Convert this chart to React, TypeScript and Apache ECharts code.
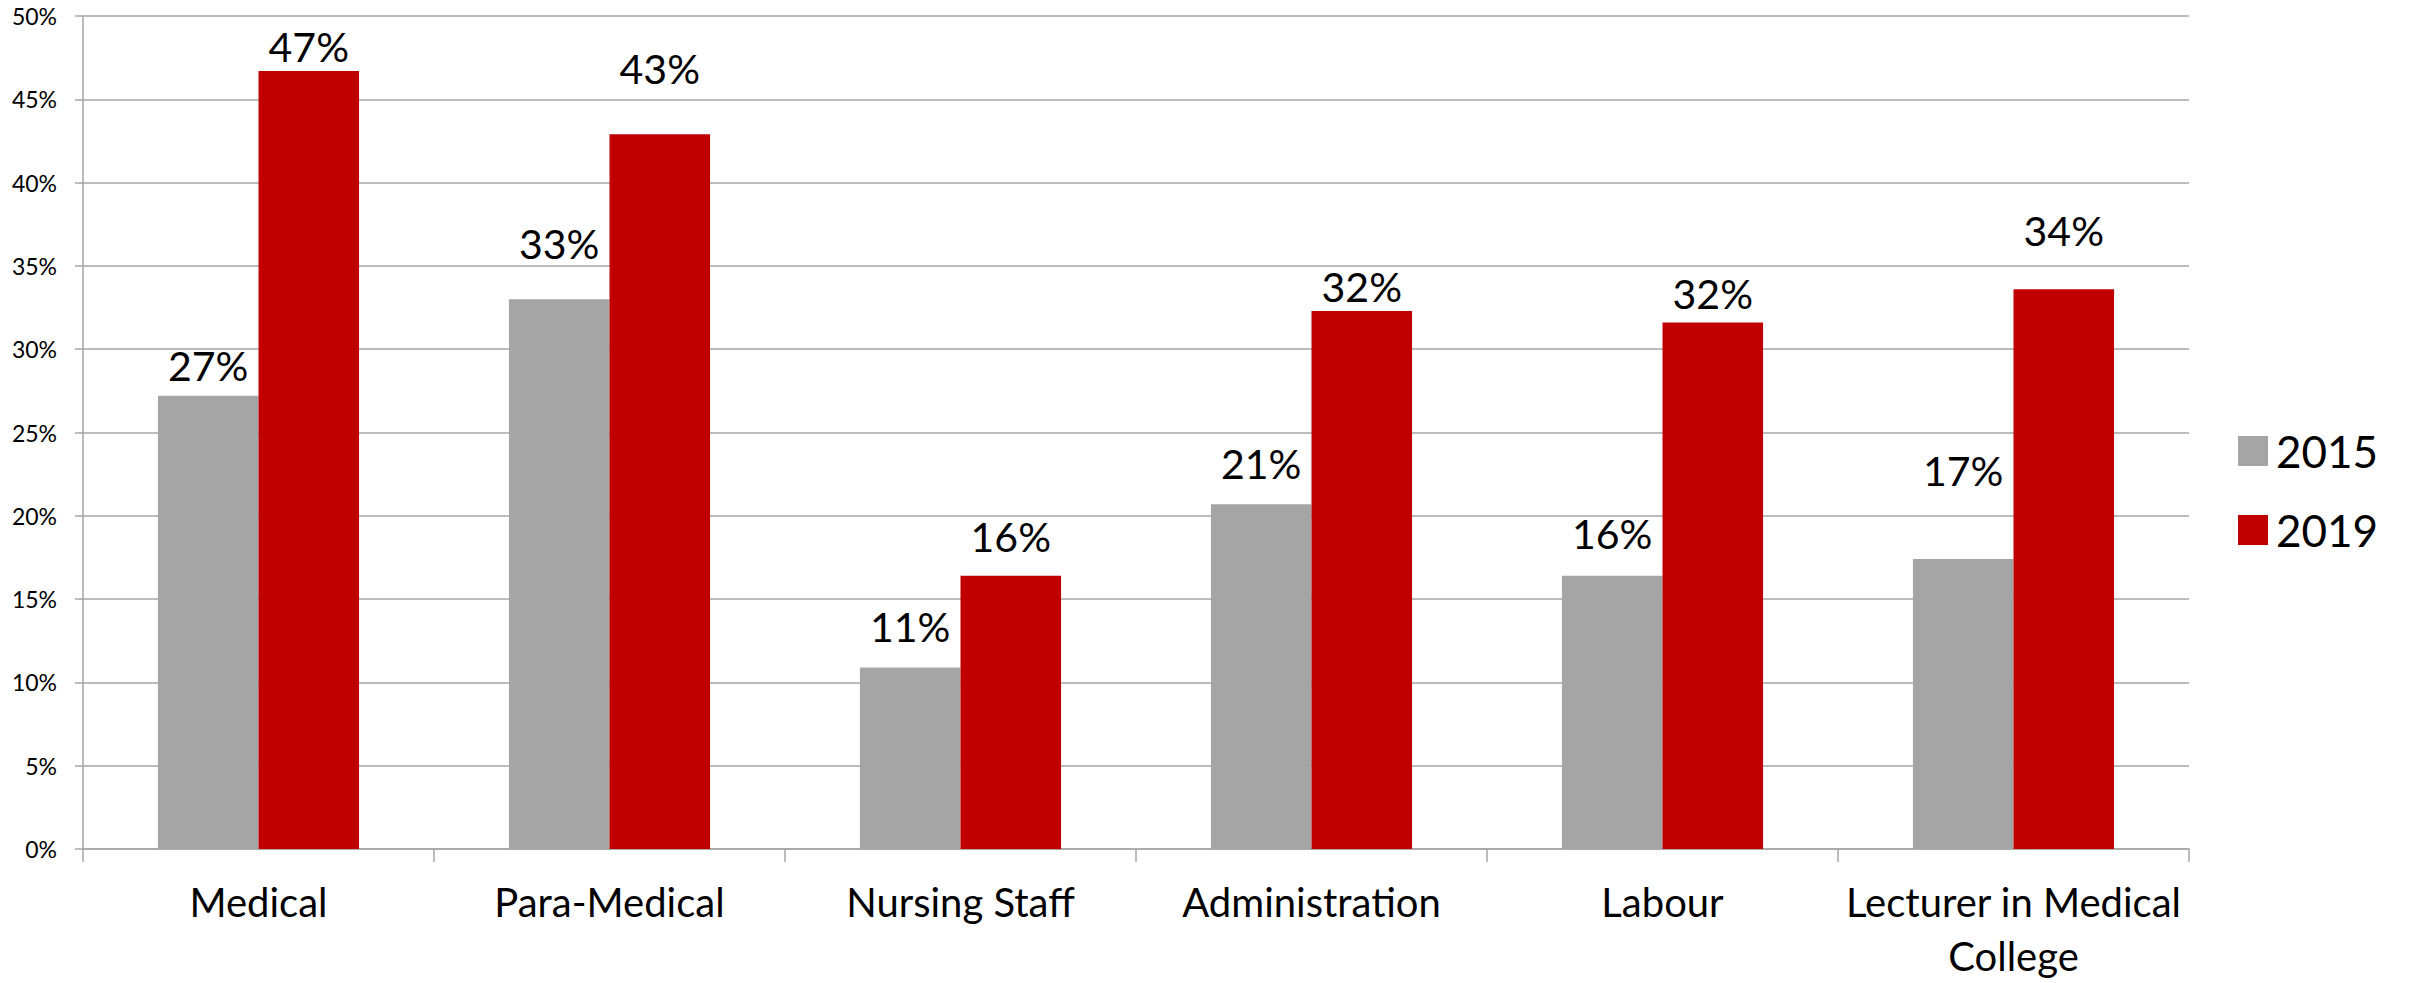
import React, { useEffect, useRef } from "react";
import * as echarts from "echarts";

// Share of posts (%) by staff category, 2015 vs 2019
const categories = [
  "Medical",
  "Para-Medical",
  "Nursing Staff",
  "Administration",
  "Labour",
  "Lecturer in Medical\nCollege",
];
const values2015 = [27.2, 33.0, 10.9, 20.7, 16.4, 17.4];
const values2019 = [46.7, 42.9, 16.4, 32.3, 31.6, 33.6];
const seriesNames = ["2015", "2019"];

// Extra lift of each value label above its bar (px)
const labelLift2015 = [10, 35, 20, 20, 22, 68];
const labelLift2019 = [4, 45, 19, 4, 9, 38];

const FONT = "Lato";
const GRID_COLOR = "#a6a6a6";

export default function App() {
  const ref = useRef<HTMLDivElement>(null);

  useEffect(() => {
    if (!ref.current) return;
    const chart = echarts.init(ref.current, null, { renderer: "svg" });

    const pct = (p: any) => Math.round(p.value) + "%";
    const makeSeries = (name: string, values: number[], lifts: number[], color: string) => ({
      name,
      type: "bar",
      barGap: "0%",
      barCategoryGap: "42.7%",
      itemStyle: { color },
      label: {
        show: true,
        position: "top",
        formatter: pct,
        fontFamily: FONT,
        fontSize: 41,
        color: "#000",
      },
      data: values.map((v, i) => ({ value: v, label: { distance: lifts[i] } })),
    });

    chart.setOption({
      animation: false,
      backgroundColor: "#fff",
      textStyle: { fontFamily: FONT },
      grid: { left: 83, right: 228, top: 16, bottom: 128, containLabel: false },
      legend: {
        orient: "vertical",
        left: 2238,
        top: 426,
        padding: 0,
        itemWidth: 30,
        itemHeight: 30,
        itemGap: 29,
        icon: "rect",
        data: seriesNames,
        textStyle: {
          fontFamily: FONT,
          fontSize: 44,
          lineHeight: 50,
          color: "#000",
          padding: [0, 0, 0, 3],
        },
      },
      xAxis: {
        type: "category",
        data: categories,
        axisLine: { show: true, lineStyle: { color: GRID_COLOR, width: 1.5 } },
        axisTick: { show: true, length: 13, interval: 0, lineStyle: { color: GRID_COLOR, width: 1.5 } },
        axisLabel: {
          interval: 0,
          margin: 26,
          fontFamily: FONT,
          fontSize: 40,
          lineHeight: 54,
          color: "#000",
        },
      },
      yAxis: {
        type: "value",
        min: 0,
        max: 50,
        interval: 5,
        axisLine: { show: true, lineStyle: { color: GRID_COLOR, width: 1.5 } },
        axisTick: { show: true, length: 8, lineStyle: { color: GRID_COLOR, width: 1.5 } },
        splitLine: { show: true, lineStyle: { color: GRID_COLOR, width: 1.5 } },
        axisLabel: {
          margin: 26,
          formatter: "{value}%",
          fontFamily: FONT,
          fontSize: 23,
          color: "#000",
        },
      },
      series: [
        makeSeries(seriesNames[0], values2015, labelLift2015, "#a5a5a5"),
        makeSeries(seriesNames[1], values2019, labelLift2019, "#c00000"),
      ],
    });

    return () => chart.dispose();
  }, []);

  return (
    <div
      ref={ref}
      style={{ position: "fixed", left: 0, top: 0, width: 2417, height: 983, background: "#fff" }}
    />
  );
}
